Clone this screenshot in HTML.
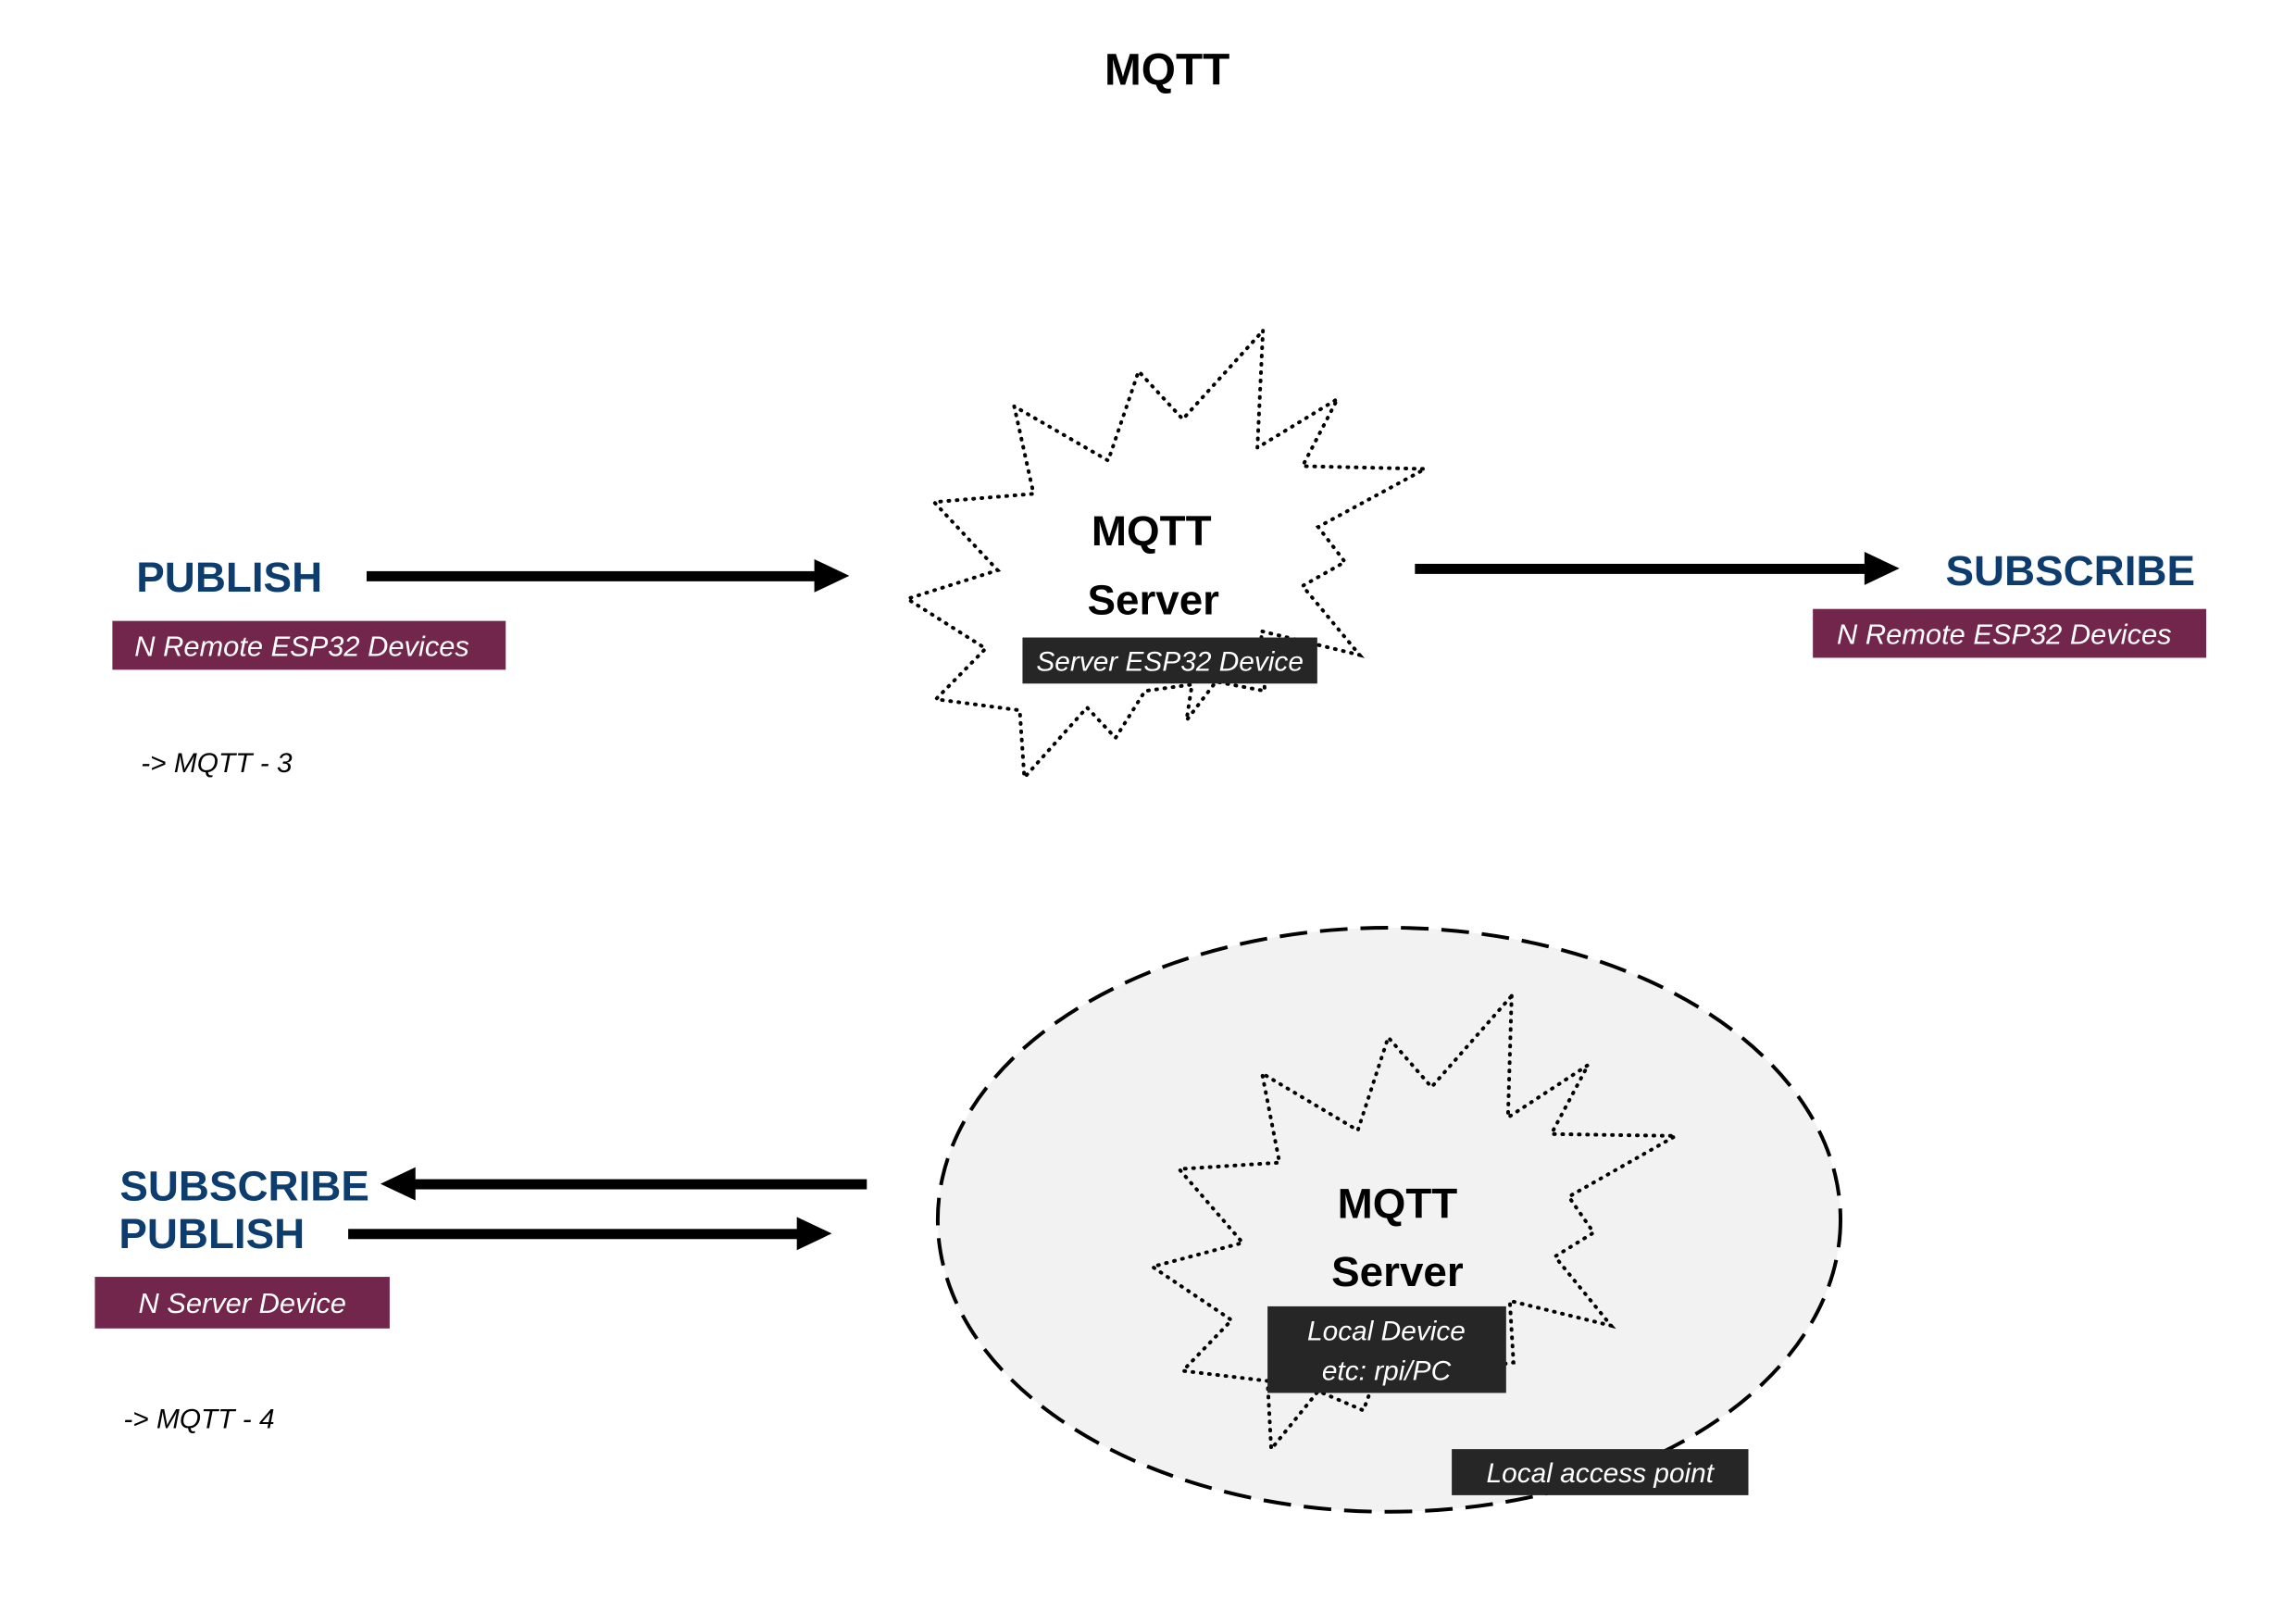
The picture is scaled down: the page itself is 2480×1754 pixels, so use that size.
<!DOCTYPE html>
<html><head><meta charset="utf-8"><style>
html,body{margin:0;padding:0;background:#fff;}
svg{display:block;}
text{font-family:"Liberation Sans",sans-serif;}
</style></head><body>
<svg width="2480" height="1754" viewBox="0 0 2480 1754" xmlns="http://www.w3.org/2000/svg">
<rect width="2480" height="1754" fill="#fff"/>
<g transform="scale(0.995)">
<text x="1267" y="92" font-size="48" font-weight="bold" text-anchor="middle">MQTT</text>

<!-- top section -->
<text x="148" y="642" font-size="46" font-weight="bold" fill="#0d3d6e">PUBLISH</text>
<rect x="122" y="674" width="427" height="53" fill="#72264c"/>
<text x="146" y="712" font-size="31" font-style="italic" fill="#fff">N Remote ESP32 Devices</text>
<text x="153" y="838" font-size="30" font-style="italic">-&gt; MQTT  - 3</text>

<rect x="398" y="620" width="490" height="11" fill="#000"/>
<polygon points="884,607 922,625 884,643" fill="#000"/>

<polygon fill="#fff" stroke="#000" stroke-width="4" stroke-dasharray="1 8" stroke-linecap="round"
 points="1371,359 1365,486 1452,433 1414,506 1547,509 1431,572 1460,610 1414,636 1476,711 1369,685 1373,750 1320,740 1288,782 1294,743 1243,750 1211,801 1180,768 1112,844 1107,771 1016,759 1070,704 985,650 1083,619 1014,545 1122,536 1101,441 1203,500 1236,403 1284,455"/>
<text x="1250" y="592" font-size="46" font-weight="bold" text-anchor="middle">MQTT</text>
<text x="1252" y="667" font-size="46" font-weight="bold" text-anchor="middle">Server</text>
<rect x="1110" y="692" width="320" height="50" fill="#262626"/>
<text x="1270" y="728" font-size="30" font-style="italic" fill="#fff" text-anchor="middle">Server ESP32 Device</text>

<rect x="1536" y="612" width="490" height="11" fill="#000"/>
<polygon points="2024,599 2062,617 2024,635" fill="#000"/>
<text x="2112" y="635" font-size="46" font-weight="bold" fill="#0d3d6e">SUBSCRIBE</text>
<rect x="1968" y="661" width="427" height="53" fill="#72264c"/>
<text x="1994" y="699" font-size="31" font-style="italic" fill="#fff">N Remote ESP32 Devices</text>

<!-- bottom section -->
<text x="130" y="1303" font-size="46" font-weight="bold" fill="#0d3d6e">SUBSCRIBE</text>
<text x="129" y="1355" font-size="46" font-weight="bold" fill="#0d3d6e">PUBLISH</text>
<rect x="449" y="1280" width="492" height="11" fill="#000"/>
<polygon points="451,1267 413,1285 451,1303" fill="#000"/>
<rect x="378" y="1334" width="490" height="11" fill="#000"/>
<polygon points="865,1321 903,1339 865,1357" fill="#000"/>
<rect x="103" y="1386" width="320" height="56" fill="#72264c"/>
<text x="263" y="1425" font-size="31" font-style="italic" fill="#fff" text-anchor="middle">N Server Device</text>
<text x="134" y="1550" font-size="30" font-style="italic">-&gt; MQTT  - 4</text>

<ellipse cx="1508" cy="1324" rx="490" ry="317" fill="#f2f2f2" stroke="#000" stroke-width="4" stroke-dasharray="30 14"/>
<polygon fill="#f2f2f2" stroke="#000" stroke-width="4" stroke-dasharray="1 8" stroke-linecap="round"
 points="1641,1081 1637,1213 1724,1156 1684,1231 1819,1233 1703,1299 1730,1338 1688,1364 1749,1439 1639,1412 1643,1479 1490,1500 1487,1512 1480,1531 1431,1510 1380,1573 1376,1499 1284,1488 1337,1433 1251,1375 1349,1349 1280,1269 1389,1262 1370,1165 1474,1227 1507,1126 1554,1180"/>
<text x="1517" y="1322" font-size="46" font-weight="bold" text-anchor="middle">MQTT</text>
<text x="1517" y="1396" font-size="46" font-weight="bold" text-anchor="middle">Server</text>
<rect x="1376" y="1418" width="259" height="94" fill="#262626"/>
<text x="1505" y="1455" font-size="30" font-style="italic" fill="#fff" text-anchor="middle">Local Device</text>
<text x="1505" y="1498" font-size="30" font-style="italic" fill="#fff" text-anchor="middle">etc: rpi/PC</text>
<rect x="1576" y="1573" width="322" height="50" fill="#262626"/>
<text x="1737" y="1609" font-size="30" font-style="italic" fill="#fff" text-anchor="middle">Local access point</text>
</g>
</svg>
</body></html>
